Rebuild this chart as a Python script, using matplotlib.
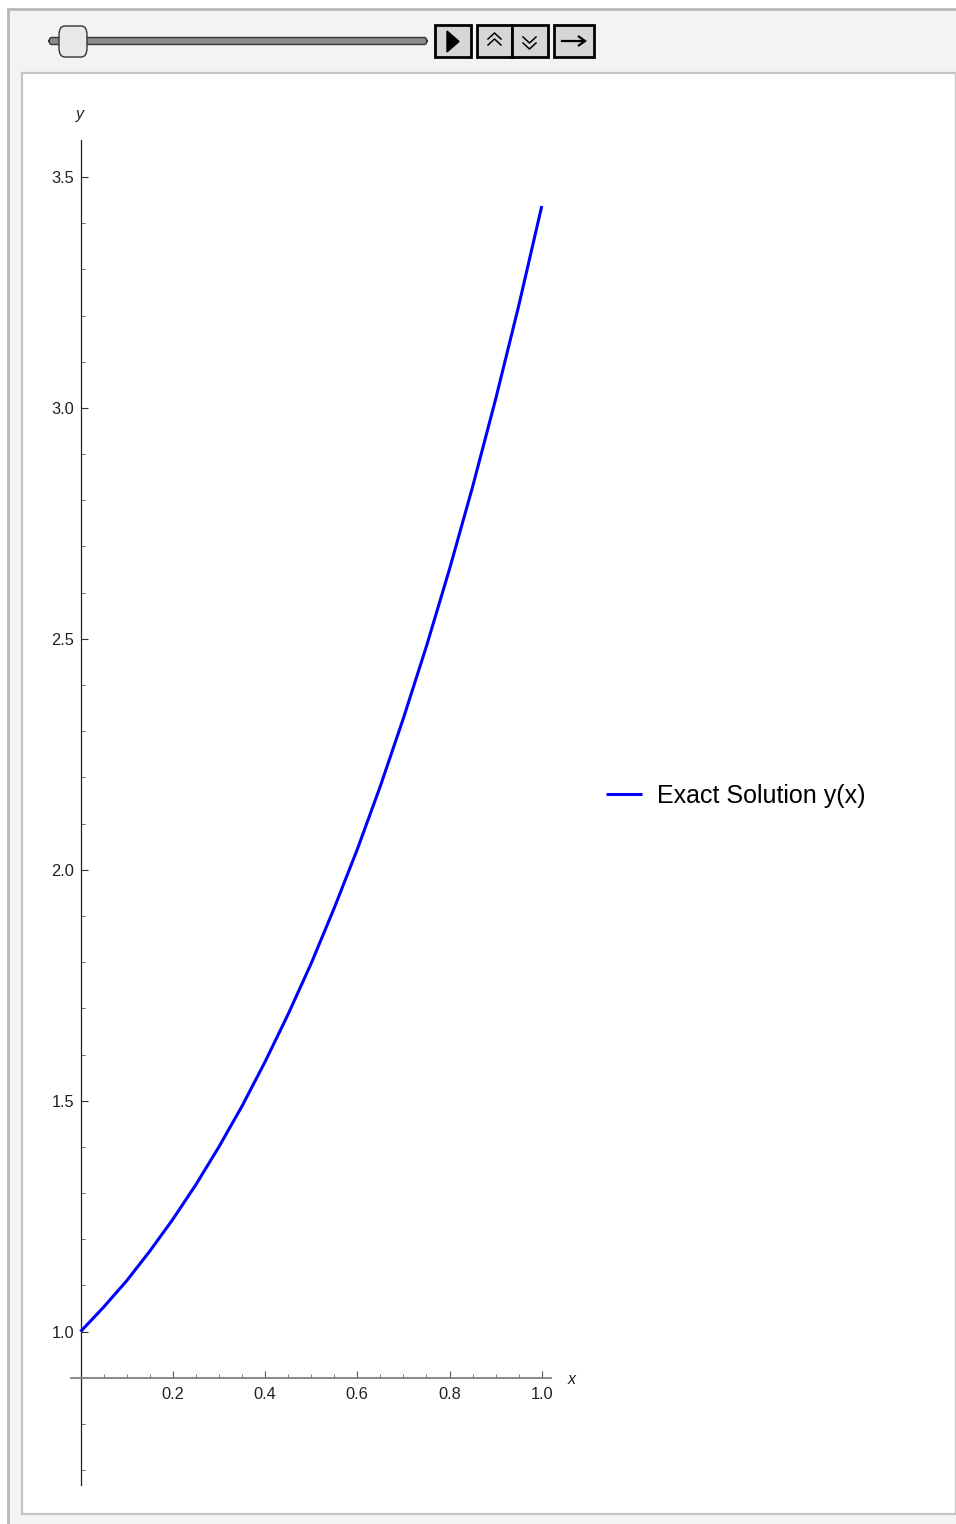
import matplotlib
matplotlib.use("Agg")
import matplotlib.pyplot as plt
from matplotlib.patches import Rectangle, FancyBboxPatch, Polygon
from matplotlib.lines import Line2D
from matplotlib.ticker import MultipleLocator, FixedLocator

plt.rcParams['font.family'] = ['Liberation Sans', 'DejaVu Sans']

# values
x_vals = [0.0, 0.05, 0.1, 0.15, 0.2, 0.25, 0.3, 0.35, 0.4, 0.45, 0.5,
          0.55, 0.6, 0.65, 0.7, 0.75, 0.8, 0.85, 0.9, 0.95, 1.0]
y_vals = [1.000, 1.053, 1.110, 1.174, 1.243, 1.318, 1.400, 1.488, 1.584, 1.687, 1.797,
          1.917, 2.044, 2.181, 2.328, 2.484, 2.651, 2.829, 3.019, 3.221, 3.437]
series_label = 'Exact Solution y(x)'
x_ticks = [0.2, 0.4, 0.6, 0.8, 1.0]
x_ticklabels = ['0.2', '0.4', '0.6', '0.8', '1.0']

W, H = 956, 1524
fig = plt.figure(figsize=(W / 100, H / 100), dpi=100)


def fx(px):
    return px / W


def fy(py):
    return 1 - py / H


# outer gray panel and inner white panel
fig.patches.append(Rectangle((fx(8), fy(1530)), fx(960) - fx(8), fy(9) - fy(1530),
                             transform=fig.transFigure, facecolor='#f3f3f3',
                             edgecolor='#b8b8b8', linewidth=2, zorder=0))
fig.patches.append(Rectangle((fx(22), fy(1514)), fx(956) - fx(22), fy(73) - fy(1514),
                             transform=fig.transFigure, facecolor='white',
                             edgecolor='#c4c4c4', linewidth=1.6, zorder=1))

# slider track
fig.patches.append(FancyBboxPatch((fx(49), fy(44.5)), fx(427) - fx(49), fy(37.5) - fy(44.5),
                                  boxstyle='round,pad=0,rounding_size=0.003',
                                  transform=fig.transFigure, facecolor='#8c8c8c',
                                  edgecolor='#333333', linewidth=1.0, zorder=2))
# slider thumb
fig.patches.append(FancyBboxPatch((fx(59), fy(57)), fx(87) - fx(59), fy(26) - fy(57),
                                  boxstyle='round,pad=0,rounding_size=0.006',
                                  transform=fig.transFigure, facecolor='#e8e8e8',
                                  edgecolor='#333333', linewidth=1, zorder=3))

# control buttons
for left, right in [(435, 471), (477, 512), (512, 548), (554, 594)]:
    fig.patches.append(Rectangle((fx(left), fy(57)), fx(right) - fx(left), fy(25) - fy(57),
                                 transform=fig.transFigure, facecolor='#d6d6d6',
                                 edgecolor='black', linewidth=2, zorder=2))

# play triangle
fig.patches.append(Polygon([(fx(447), fy(31)), (fx(447), fy(52)), (fx(459), fy(41.5))],
                           closed=True, transform=fig.transFigure, facecolor='black',
                           edgecolor='black', zorder=3))
# double chevrons up / down
for dy in (0, 6):
    fig.lines.append(Line2D([fx(488), fx(494.5), fx(501)], [fy(39 + dy), fy(33 + dy), fy(39 + dy)],
                            transform=fig.transFigure, color='black', linewidth=1.1, zorder=3))
    fig.lines.append(Line2D([fx(523), fx(529.5), fx(536)], [fy(37 + dy), fy(43 + dy), fy(37 + dy)],
                            transform=fig.transFigure, color='black', linewidth=1.1, zorder=3))
# right arrow
fig.lines.append(Line2D([fx(562), fx(584)], [fy(41), fy(41)],
                        transform=fig.transFigure, color='black', linewidth=1.6, zorder=3))
fig.patches.append(Polygon([(fx(578), fy(36)), (fx(585), fy(41)), (fx(578), fy(46))],
                           closed=False, transform=fig.transFigure, facecolor='none',
                           edgecolor='black', linewidth=1.6, zorder=3))

# plot area
ax = fig.add_axes([fx(71), fy(1485), fx(551) - fx(71), fy(140) - fy(1485)])
ax.set_facecolor('none')
ax.set_zorder(5)
line, = ax.plot(x_vals, y_vals, color=(0, 0, 1), linewidth=2.2, solid_capstyle='butt')

ax.set_xlim(-0.0206, 1.020)
ax.set_ylim(0.668, 3.580)

ax.spines['top'].set_visible(False)
ax.spines['right'].set_visible(False)
ax.spines['left'].set_position(('data', 0))
ax.spines['bottom'].set_position(('data', 0.9))
ax.spines['left'].set_color('#222222')
ax.spines['left'].set_linewidth(0.9)
ax.spines['bottom'].set_color('#808080')
ax.spines['bottom'].set_linewidth(1.3)

ax.yaxis.set_major_locator(MultipleLocator(0.5))
ax.yaxis.set_minor_locator(MultipleLocator(0.1))
ax.yaxis.set_major_formatter(plt.FuncFormatter(lambda v, p: '%.1f' % v))
ax.xaxis.set_major_locator(FixedLocator(x_ticks))
ax.set_xticklabels(x_ticklabels)
ax.xaxis.set_minor_locator(FixedLocator([0.05, 0.1, 0.15, 0.25, 0.3, 0.35, 0.45, 0.5, 0.55,
                                         0.65, 0.7, 0.75, 0.85, 0.9, 0.95]))

ax.tick_params(axis='y', which='major', direction='in', length=5, width=0.8,
               color='#333333', labelsize=11.8, labelcolor='#222222', pad=4.5)
ax.tick_params(axis='y', which='minor', direction='in', length=3, width=0.6, color='#555555')
ax.tick_params(axis='x', which='major', direction='in', length=5, width=0.8,
               color='#555555', labelsize=11.8, labelcolor='#222222', pad=6.5)
ax.tick_params(axis='x', which='minor', direction='in', length=3, width=0.6, color='#666666')

fig.text(fx(80), fy(115), 'y', ha='center', va='center', fontsize=11.5, style='italic', color='#222222')
fig.text(fx(572), fy(1380), 'x', ha='center', va='center', fontsize=11.5, style='italic', color='#222222')

fig.legend([line], [series_label], loc='center left',
           bbox_to_anchor=(fx(606), fy(796)), frameon=False, fontsize=18,
           handlelength=1.45, handletextpad=0.6, borderpad=0, borderaxespad=0)

fig.savefig('out.png', dpi=100)
